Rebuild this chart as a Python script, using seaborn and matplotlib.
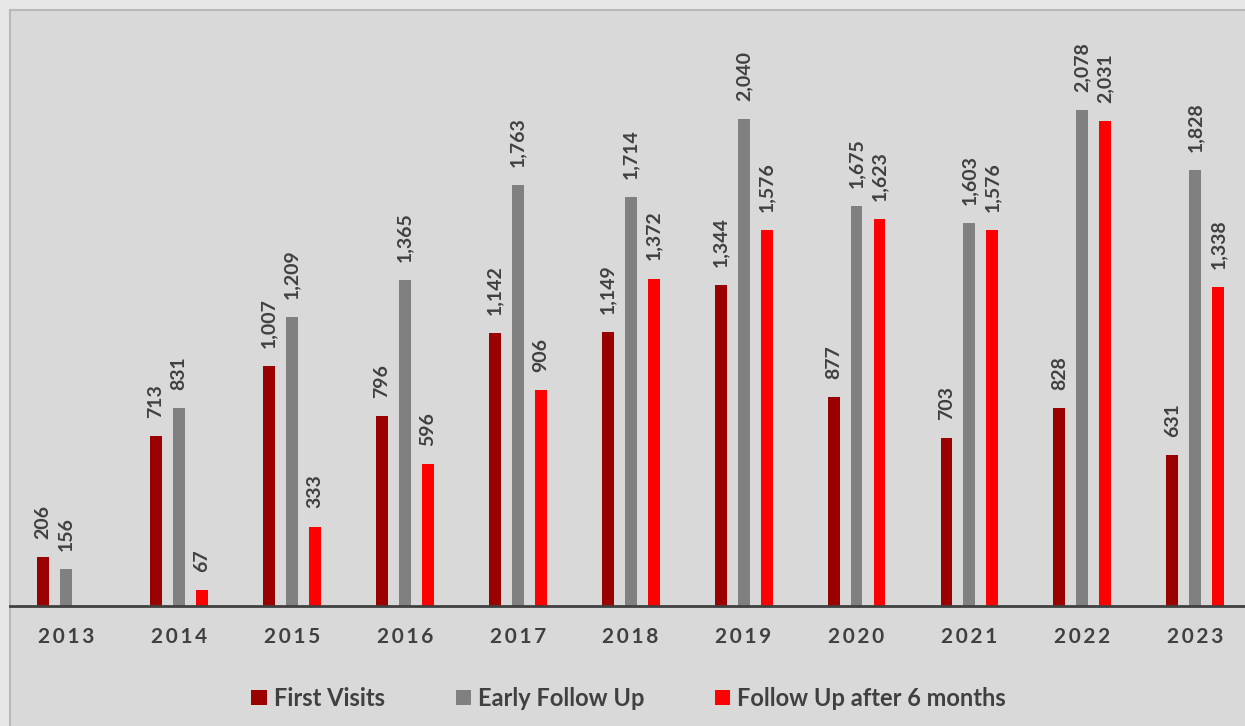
import numpy as np
import pandas as pd
import matplotlib
matplotlib.use("Agg")
import matplotlib.pyplot as plt
from matplotlib.patches import Rectangle
import seaborn as sns

years = ["2013", "2014", "2015", "2016", "2017", "2018", "2019", "2020", "2021", "2022", "2023"]
first_visits = [206, 713, 1007, 796, 1142, 1149, 1344, 877, 703, 828, 631]
early_follow_up = [156, 831, 1209, 1365, 1763, 1714, 2040, 1675, 1603, 2078, 1828]
follow_up_6m = [np.nan, 67, 333, 596, 906, 1372, 1576, 1623, 1576, 2031, 1338]
series_names = ["First Visits", "Early Follow Up", "Follow Up after 6 months"]
colors = ["#9b0000", "#808080", "#ff0000"]

rows = []
for name, vals in zip(series_names, [first_visits, early_follow_up, follow_up_6m]):
    for y, v in zip(years, vals):
        rows.append({"year": y, "series": name, "value": v})
df = pd.DataFrame(rows)

sns.set_theme(style="white")
plt.rcParams["font.family"] = ["Lato", "DejaVu Sans"]

W, H = 1245, 726
fig = plt.figure(figsize=(W / 100, H / 100), dpi=100, facecolor="#e6e6e6")
fig.patches.append(Rectangle((10 / W, -0.01), 1.0, 1 - 10 / H + 0.01, transform=fig.transFigure,
                             facecolor="#d9d9d9", edgecolor="#b8b8b8", linewidth=1.5, zorder=-5))

ax = fig.add_axes([10 / W, 120 / H, 1 - 10 / W, (606 - 10) / H])
ax.set_facecolor("none")
ax.set_zorder(2)

sns.barplot(data=df, x="year", y="value", hue="series", hue_order=series_names,
            palette=colors, width=0.61, gap=0.48, ax=ax, legend=False, saturation=1,
            errorbar=None, linewidth=0)

ax.set_xlim(-0.496, 10.44)
ax.set_ylim(0, 596 / 0.2387)

for cont in ax.containers:
    labels = ["" if (v is None or np.isnan(v)) else f"{v:,.0f}" for v in cont.datavalues]
    ax.bar_label(cont, labels=labels, rotation=90, padding=13, fontsize=14,
                 fontweight="bold", color="#404040")

for s in ["top", "left", "right"]:
    ax.spines[s].set_visible(False)
ax.spines["bottom"].set_color("#404040")
ax.spines["bottom"].set_linewidth(2)
ax.set_yticks([])
ax.set_xlabel("")
ax.set_ylabel("")
hs = "\u2009"
ax.set_xticks(range(len(years)))
ax.set_xticklabels([hs.join(y) for y in years], fontsize=15, fontweight="bold", color="#404040")
ax.tick_params(axis="x", length=0, pad=15)

handles = [Rectangle((0, 0), 1, 1, facecolor=c, edgecolor="none") for c in colors]
fig.legend(handles, series_names, loc="center", bbox_to_anchor=(0.505, 0.038), ncol=3,
           frameon=False, handlelength=0.64, handleheight=0.64, handletextpad=0.3,
           columnspacing=3.0, prop={"size": 17, "weight": "bold"}, labelcolor="#404040")

fig.savefig("out.png", dpi=100, facecolor=fig.get_facecolor())
